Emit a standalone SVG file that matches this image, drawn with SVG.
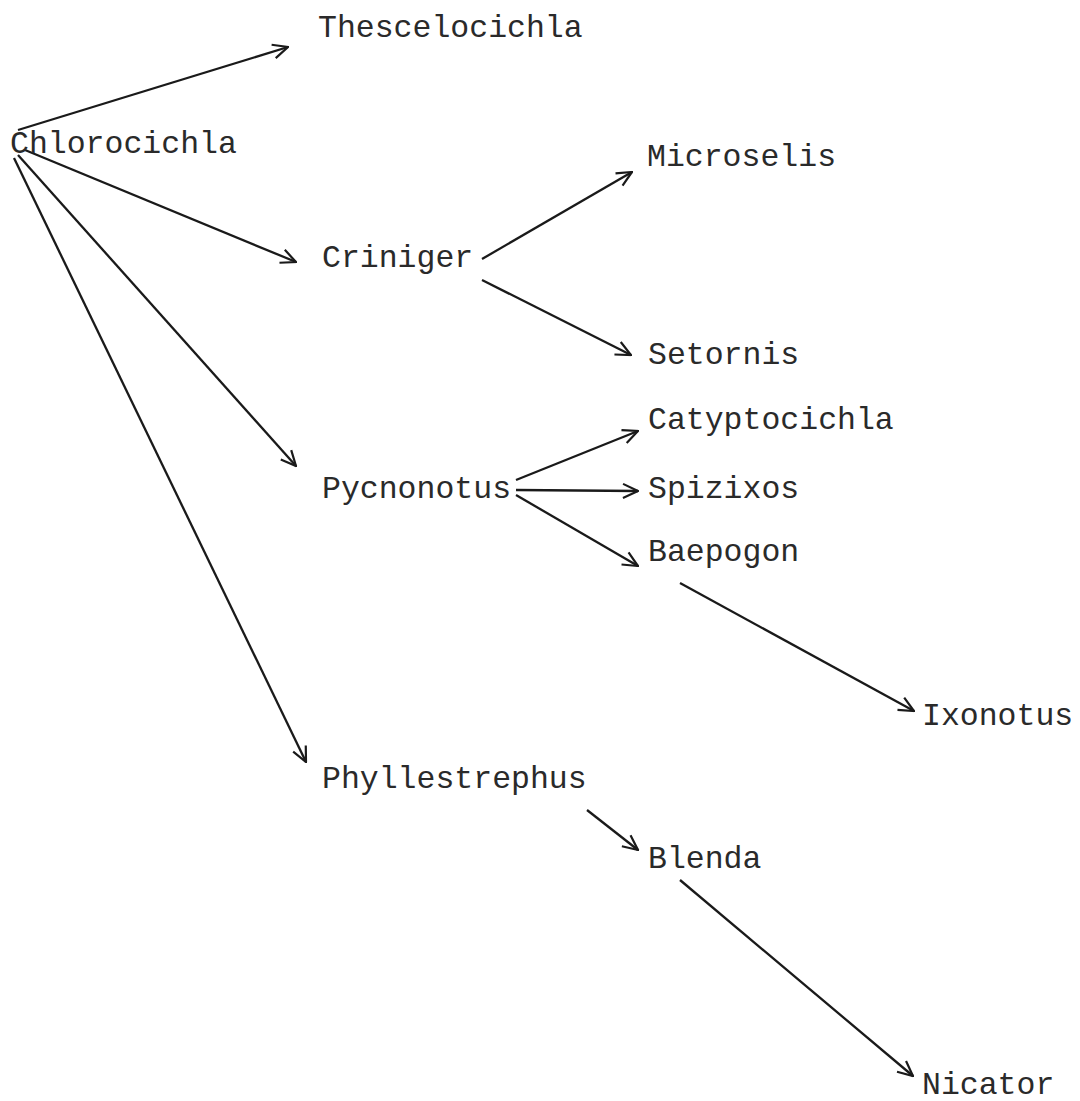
<svg xmlns="http://www.w3.org/2000/svg" width="1080" height="1101" viewBox="0 0 1080 1101">
<style>
text{font-family:"Courier New","Liberation Mono",monospace;font-size:31.5px;fill:#2a2a2a}
.c line{stroke:#1a1a1a;stroke-width:2.3;fill:none;marker-end:url(#ah)}
</style>
<defs>
<marker id="ah" viewBox="0 0 18 18" markerWidth="18" markerHeight="18" markerUnits="userSpaceOnUse" refX="17" refY="9" orient="auto">
<path d="M2,2 L17,9 L2,16" fill="none" stroke="#1a1a1a" stroke-width="2.2"/>
</marker>
</defs>
<rect width="1080" height="1101" fill="#fff"/>
<g class="c" id="connectors">
<line x1="18" y1="130" x2="288" y2="47"/>
<line x1="25" y1="150" x2="296" y2="262"/>
<line x1="18" y1="155" x2="296" y2="466"/>
<line x1="14" y1="158" x2="306" y2="762"/>
<line x1="482" y1="259" x2="632" y2="172"/>
<line x1="482" y1="280" x2="631" y2="355"/>
<line x1="516" y1="480" x2="638" y2="431"/>
<line x1="516" y1="490" x2="638" y2="491"/>
<line x1="516" y1="495" x2="638" y2="566"/>
<line x1="680" y1="583" x2="914" y2="711"/>
<line x1="587" y1="810" x2="638" y2="850"/>
<line x1="680" y1="880" x2="913" y2="1076"/>
</g>
<g id="n-thescelocichla"><text x="318" y="37">Thescelocichla</text></g>
<g id="n-chlorocichla"><text x="10" y="153">Chlorocichla</text></g>
<g id="n-microselis"><text x="647" y="166">Microselis</text></g>
<g id="n-criniger"><text x="322" y="267">Criniger</text></g>
<g id="n-setornis"><text x="648" y="364">Setornis</text></g>
<g id="n-catyptocichla"><text x="648" y="429">Catyptocichla</text></g>
<g id="n-pycnonotus"><text x="322" y="498">Pycnonotus</text></g>
<g id="n-spizixos"><text x="648" y="498">Spizixos</text></g>
<g id="n-baepogon"><text x="648" y="561">Baepogon</text></g>
<g id="n-ixonotus"><text x="922" y="725">Ixonotus</text></g>
<g id="n-phyllestrephus"><text x="322" y="788">Phyllestrephus</text></g>
<g id="n-blenda"><text x="648" y="868">Blenda</text></g>
<g id="n-nicator"><text x="922" y="1094">Nicator</text></g>
</svg>
